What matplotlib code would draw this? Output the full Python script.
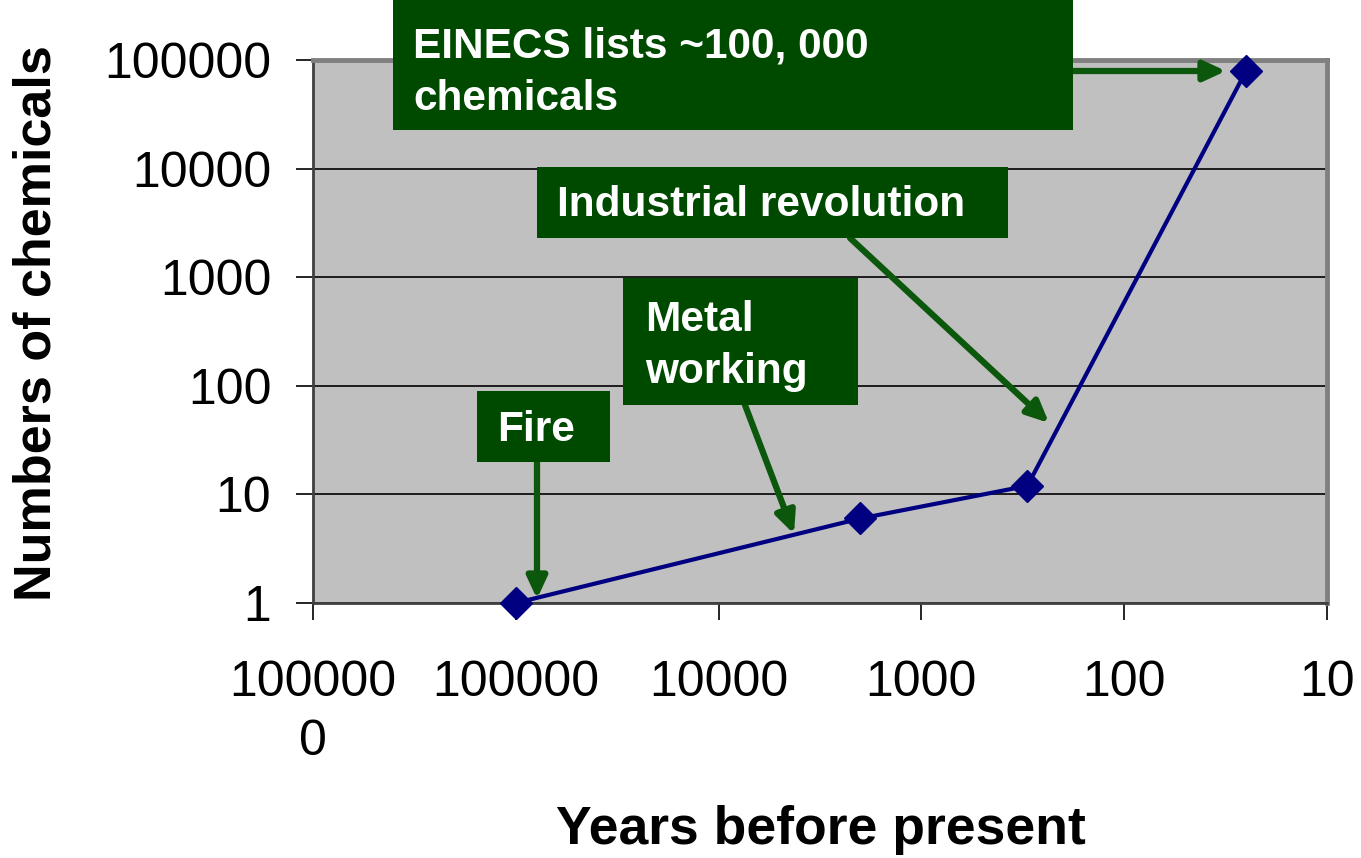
import matplotlib.pyplot as plt
from matplotlib.patches import Rectangle

plt.rcParams['font.family'] = ['Liberation Sans', 'DejaVu Sans']

# data
years = [100000, 2000, 300, 25]
chemicals = [1, 6, 12, 80000]
x_ticks = [1000000, 100000, 10000, 1000, 100, 10]
x_labels = ["100000\n0", "100000", "10000", "1000", "100", "10"]
y_ticks = [1, 10, 100, 1000, 10000, 100000]
y_labels = ["1", "10", "100", "1000", "10000", "100000"]

W, H = 1361, 858
fig = plt.figure(figsize=(W / 100, H / 100), dpi=100)
ax = fig.add_axes([313 / W, 1 - 603 / H, (1327 - 313) / W, (603 - 60) / H])
ax.set_facecolor('#C0C0C0')

ax.set_xscale('log')
ax.set_yscale('log')
ax.set_xlim(1000000, 10)
ax.set_ylim(1, 100000)
ax.set_xticks(x_ticks)
ax.set_xticklabels(x_labels, linespacing=1.35)
ax.set_yticks(y_ticks)
ax.set_yticklabels(y_labels)
ax.minorticks_off()
ax.tick_params(axis='both', direction='out', length=12, width=1.2, labelsize=36)
ax.tick_params(axis='x', pad=29)
ax.tick_params(axis='y', pad=18)
ax.grid(axis='y', color='black', linewidth=1.2)
ax.set_axisbelow(True)

for s in ['top', 'right']:
    ax.spines[s].set_color('#808080')
    ax.spines[s].set_linewidth(3.5)
for s in ['left', 'bottom']:
    ax.spines[s].set_color('#404040')
    ax.spines[s].set_linewidth(2)

ax.plot(years, chemicals, color='#000080', linewidth=3,
        marker='D', markersize=16, markerfacecolor='#000080',
        markeredgecolor='#000080', zorder=5, clip_on=False)

fig.text(37 / W, 1 - 323 / H, "Numbers of chemicals", rotation=90,
         fontsize=37.5, fontweight='bold', ha='center', va='center')
fig.text(821 / W, 1 - 830 / H, "Years before present", fontsize=38.5,
         fontweight='bold', ha='center', va='center')


def fp(x, y):
    return (x / W, 1 - y / H)


box_color = '#004A00'
arrow_color = '#0B570B'

# label boxes (left, top, right, bottom in pixels)
boxes = [
    ((393, -5, 1073, 130), ["EINECS lists ~100, 000", "chemicals"], 413, [47, 99]),
    ((537, 167, 1008, 238), ["Industrial revolution"], 557, [205]),
    ((623, 278, 858, 405), ["Metal", "working"], 645, [320, 372]),
    ((477, 391, 610, 462), ["Fire"], 497, [430]),
]
for (l, t, r, b), lines, tx, tys in boxes:
    fig.add_artist(Rectangle(fp(l, b), (r - l) / W, (b - t) / H,
                             transform=fig.transFigure, facecolor=box_color,
                             edgecolor='none', zorder=10))
    for line, ty in zip(lines, tys):
        fig.text(tx / W, 1 - ty / H, line, color='white', fontsize=30.5,
                 fontweight='bold', ha='left', va='center', zorder=11)

arrows = [
    ((1073, 71), (1226, 71)),
    ((850, 238), (1049, 423)),
    ((745, 405), (794, 534)),
    ((537, 462), (537, 599)),
]
for start, end in arrows:
    ax.annotate('', xy=fp(*end), xycoords='figure fraction',
                xytext=fp(*start), textcoords='figure fraction',
                arrowprops=dict(arrowstyle='-|>,head_length=1.3,head_width=0.6',
                                color=arrow_color, lw=4.5, shrinkA=0, shrinkB=0),
                zorder=9)

fig.savefig('out.png', dpi=100)
